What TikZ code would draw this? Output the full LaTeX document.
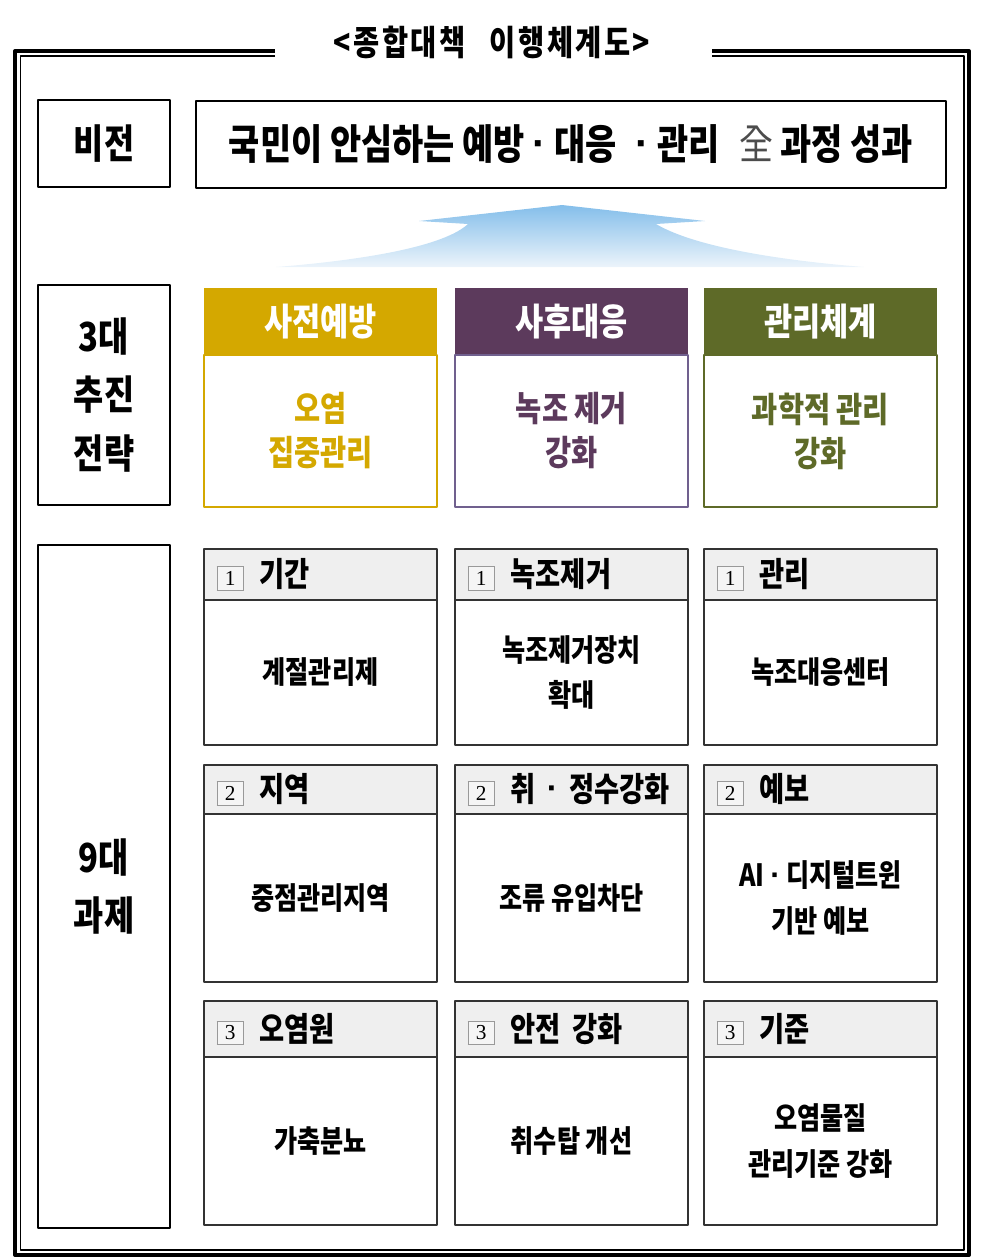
\documentclass[tikz,border=0pt]{standalone}
\usepackage{fontspec}
\setmainfont{Noto Sans CJK KR}[FakeStretch=0.82]
\newfontfamily\numfont{Liberation Serif}
\newfontfamily\dotfont{Liberation Sans}
\usetikzlibrary{positioning}

\definecolor{gold}{RGB}{212,168,0}
\definecolor{plum}{RGB}{92,58,92}
\definecolor{plumline}{RGB}{112,96,142}
\definecolor{olive}{RGB}{94,106,40}
\definecolor{hdgray}{RGB}{239,239,239}
\definecolor{skyblue}{RGB}{132,190,234}
\definecolor{skypale}{RGB}{236,244,251}

\newcommand{\numbox}[1]{\raisebox{0pt}{\setlength{\fboxsep}{0pt}\setlength{\fboxrule}{0.7pt}%
  \fcolorbox{black!40}{hdgray!60}{\parbox[c][17pt][c]{19pt}{\centering\numfont\mdseries\fontsize{16}{16}\selectfont #1}}}\hspace{12pt}}
\newcommand{\md}{\raisebox{0.06em}{\dotfont\bfseries ·}}

\begin{document}
\begin{tikzpicture}[x=0.75pt, y=-0.75pt, line join=round,
  lbl/.style={draw, line width=2pt, outer sep=0pt, minimum width=99pt, align=center,
    font=\fontsize{30}{44}\selectfont\bfseries},
  strhead/.style={outer sep=0pt, minimum width=174.75pt, minimum height=50.25pt, text=white,
    font=\fontsize{28}{30}\selectfont\bfseries},
  strbody/.style={draw, line width=2pt, outer sep=0pt, minimum width=174.75pt, minimum height=114pt,
    align=center, font=\fontsize{26}{33}\selectfont\bfseries},
  taskhead/.style={draw=black!80, line width=1pt, fill=hdgray, outer sep=0pt, text width=156pt,
    inner xsep=9.4pt, align=left, font=\fontsize{25}{28}\selectfont\bfseries},
  taskbody/.style={draw=black!80, line width=1pt, outer sep=0pt, minimum width=174.75pt, align=center,
    font=\fontsize{23}{34}\selectfont\bfseries}]

    \useasboundingbox (0,0) rectangle (982,1258);

    % frame
    \draw[line width=3pt] (275,51) -- (15,51) -- (15,1255) -- (969,1255) -- (969,51) -- (712,51);
    \draw[line width=1.2pt] (275,56) -- (20.5,56) -- (20.5,1250) -- (964,1250) -- (964,56) -- (712,56);
    \node[font=\fontsize{26}{28}\selectfont\bfseries\addfontfeatures{LetterSpace=7}] (title) at (492,42)
      {<종합대책\;\, 이행체계도>};

    % vision
    \node[lbl, minimum height=65.25pt] (lvision) at (104,143.5) {비전};
    \node[draw, line width=1.1pt, minimum width=562.5pt, minimum height=65.25pt,
      font=\fontsize{31}{34}\selectfont\bfseries] (vision) at (571,144.5)
      {국민이 안심하는 예방 \md{} 대응 \;\md{} 관리 \;{\mdseries\color{black!70}全} 과정 성과};

    % arrow
    \shade[top color=skyblue, bottom color=skypale]
      (562,205) -- (705,221) -- (656,224) .. controls (700,250) and (800,262) .. (864,267)
      -- (276,267) .. controls (340,262) and (440,250) .. (468,224) -- (419,221) -- cycle;

    % strategies
    \node[lbl, minimum height=165pt] (lstrat) at (104,395) {3대\\추진\\전략};
    \node[strhead, fill=gold] (s1h) at (320.5,321.5) {사전예방};
    \node[strbody, draw=gold, text=gold, below=0pt of s1h] (s1b) {오염\\집중관리};
    \node[strhead, fill=plum] (s2h) at (571.5,321.5) {사후대응};
    \node[strbody, draw=plumline, text=plum, below=0pt of s2h] (s2b) {녹조 제거\\강화};
    \node[strhead, fill=olive] (s3h) at (820.5,321.5) {관리체계};
    \node[strbody, draw=olive, text=olive, below=0pt of s3h] (s3b) {과학적 관리\\강화};

    % tasks
    \node[lbl, minimum height=512.25pt] (ltask) at (104,886.5) {9대\\과제};

    % first-row
    \node[taskhead, minimum height=38.25pt] (t11h) at (320.5,574.5) {\numbox{1}기간};
    \node[taskbody, minimum height=108.75pt, below=0pt of t11h] (t11b) {계절관리제};
    \node[taskhead, minimum height=38.25pt] (t12h) at (571.5,574.5) {\numbox{1}녹조제거};
    \node[taskbody, minimum height=108.75pt, below=0pt of t12h] (t12b) {녹조제거장치\\확대};
    \node[taskhead, minimum height=38.25pt] (t13h) at (820.5,574.5) {\numbox{1}관리};
    \node[taskbody, minimum height=108.75pt, below=0pt of t13h] (t13b) {녹조대응센터};

    % second-row
    \node[taskhead, minimum height=36.75pt] (t21h) at (320.5,789.5) {\numbox{2}지역};
    \node[taskbody, minimum height=126pt, below=0pt of t21h] (t21b) {중점관리지역};
    \node[taskhead, minimum height=36.75pt] (t22h) at (571.5,789.5) {\numbox{2}취 \md{} 정수강화};
    \node[taskbody, minimum height=126pt, below=0pt of t22h] (t22b) {조류 유입차단};
    \node[taskhead, minimum height=36.75pt] (t23h) at (820.5,789.5) {\numbox{2}예보};
    \node[taskbody, minimum height=126pt, below=0pt of t23h] (t23b) {AI \md{} 디지털트윈\\기반 예보};

    % third-row
    \node[taskhead, minimum height=42pt] (t31h) at (320.5,1029) {\numbox{3}오염원};
    \node[taskbody, minimum height=126pt, below=0pt of t31h] (t31b) {가축분뇨};
    \node[taskhead, minimum height=42pt] (t32h) at (571.5,1029) {\numbox{3}안전 강화};
    \node[taskbody, minimum height=126pt, below=0pt of t32h] (t32b) {취수탑 개선};
    \node[taskhead, minimum height=42pt] (t33h) at (820.5,1029) {\numbox{3}기준};
    \node[taskbody, minimum height=126pt, below=0pt of t33h] (t33b) {오염물질\\관리기준 강화};

\end{tikzpicture}
\end{document}
